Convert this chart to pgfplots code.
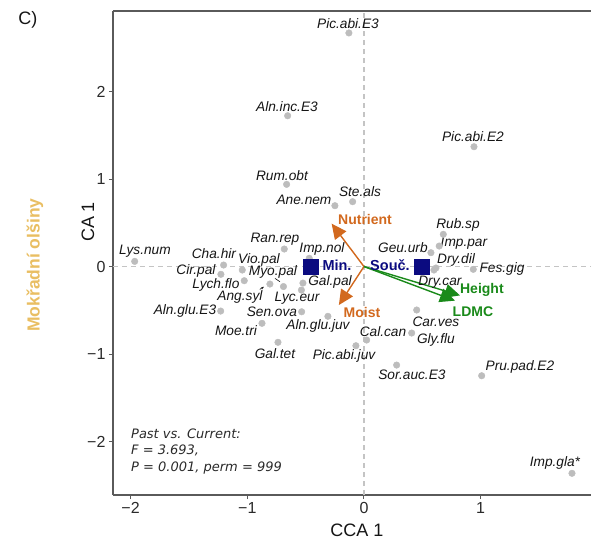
\documentclass[border=0pt]{standalone}
\usepackage{pgfplots}
\pgfplotsset{compat=1.18}
\usepackage{fontspec}
\setmainfont{Liberation Sans}
\newfontfamily\verd{DejaVu Sans}
\usetikzlibrary{arrows.meta}
\definecolor{ptgray}{HTML}{BDBDBD}
\definecolor{axgray}{HTML}{5A5A5A}
\definecolor{dashc}{HTML}{C4C4C4}
\definecolor{tickc}{HTML}{2A2A2A}
\definecolor{labc}{HTML}{151515}
\definecolor{orangec}{HTML}{D2691E}
\definecolor{greenc}{HTML}{1A8A1A}
\definecolor{navyc}{HTML}{0B0B80}
\definecolor{goldc}{HTML}{E9BE62}
\tikzset{lab/.style={font=\fontsize{13.7}{14}\selectfont\itshape, text=labc, inner sep=0pt}}
\begin{document}
\begin{tikzpicture}
\begin{axis}[name=ax, at={(0,0)}, anchor=south west, scale only axis,
  width=478pt, height=484pt,
  xmin=-2.151, xmax=1.946, ymin=-2.611, ymax=2.92,
  axis x line=box, axis y line=left,
  x axis line style={-}, y axis line style={-},
  axis line style={draw=axgray, line width=1.1pt},
  xtick={-2,-1,0,1}, xticklabels={−2,−1,0,1},
  ytick={-2,-1,0,1,2}, yticklabels={−2,−1,0,1,2},
  xtick pos=left, ytick pos=left,
  tick align=outside, major tick length=4pt,
  tick style={draw=axgray, line width=1pt},
  ticklabel style={font=\fontsize{16}{16}\selectfont, text=tickc},
  clip=false,
]
\addplot[dashc, line width=1.1pt, dash pattern=on 5pt off 4pt] coordinates {(-2.151,0) (1.946,0)};
\addplot[dashc, line width=1.1pt, dash pattern=on 5pt off 4pt] coordinates {(0,-2.611) (0,2.92)};
\addplot[only marks, mark=*, mark size=3.3pt, color=ptgray] table {
x y
-0.129 2.669
-0.654 1.723
-0.663 0.939
0.943 1.369
-0.097 0.741
-0.249 0.695
-0.683 0.200
-0.469 0.094
-1.965 0.059
-1.203 0.017
-1.043 -0.040
-1.226 -0.089
-1.026 -0.162
-0.806 -0.200
-0.690 -0.229
-0.523 -0.189
-0.536 -0.269
-0.534 -0.517
-1.228 -0.509
-0.874 -0.649
-0.737 -0.866
-0.309 -0.569
0.680 0.368
0.645 0.234
0.574 0.158
0.617 -0.017
0.600 -0.040
0.937 -0.032
0.452 -0.497
0.409 -0.760
0.023 -0.840
-0.069 -0.905
0.280 -1.126
1.009 -1.248
1.783 -2.363
};
% leader segments
\addplot[labc, line width=0.6pt, -{Stealth[length=3pt]}] coordinates {(-0.893,-0.261) (-0.857,-0.231)};
\addplot[labc, line width=0.6pt] coordinates {(-0.763,-0.135) (-0.72,-0.174)};
% arrows
\addplot[orangec, line width=1.4pt, -{Triangle[length=15pt,width=14pt]}] coordinates {(0,0) (-0.277,0.49)};
\addplot[orangec, line width=1.4pt, -{Triangle[length=15pt,width=14pt]}] coordinates {(0,0) (-0.215,-0.44)};
\addplot[greenc, line width=1.4pt, -{Triangle[length=15pt,width=14pt]}] coordinates {(0,0) (0.823,-0.33)};
\addplot[greenc, line width=1.4pt, -{Triangle[length=15pt,width=14pt]}] coordinates {(0,0) (0.78,-0.39)};
% centroids
\addplot[only marks, mark=square*, mark size=7.2pt, color=navyc] coordinates {(-0.457,0) (0.495,0)};
% species labels
\node[lab] at (axis cs:-0.137,2.771) {Pic.abi.E3};
\node[lab] at (axis cs:-0.660,1.823) {Aln.inc.E3};
\node[lab] at (axis cs:-0.703,1.034) {Rum.obt};
\node[lab] at (axis cs:0.934,1.480) {Pic.abi.E2};
\node[lab] at (axis cs:-0.034,0.851) {Ste.als};
\node[lab] at (axis cs:-0.514,0.760) {Ane.nem};
\node[lab] at (axis cs:0.806,0.474) {Rub.sp};
\node[lab] at (axis cs:0.857,0.269) {Imp.par};
\node[lab] at (axis cs:0.334,0.211) {Geu.urb};
\node[lab] at (axis cs:0.789,0.074) {Dry.dil};
\node[lab] at (axis cs:1.183,-0.029) {Fes.gig};
\node[lab] at (axis cs:-0.763,0.314) {Ran.rep};
\node[lab] at (axis cs:-0.360,0.200) {Imp.nol};
\node[lab] at (axis cs:-1.877,0.177) {Lys.num};
\node[lab] at (axis cs:-1.286,0.143) {Cha.hir};
\node[lab] at (axis cs:-0.900,0.074) {Vio.pal};
\node[lab] at (axis cs:-1.440,-0.051) {Cir.pal};
\node[lab] at (axis cs:-0.780,-0.063) {Myo.pal};
\node[lab] at (axis cs:-0.291,-0.172) {Gal.pal};
\node[lab] at (axis cs:-1.269,-0.211) {Lych.flo};
\node[lab] at (axis cs:0.651,-0.177) {Dry.car};
\node[lab] at (axis cs:-1.063,-0.349) {Ang.syl};
\node[lab] at (axis cs:-0.574,-0.365) {Lyc.eur};
\node[lab] at (axis cs:-1.534,-0.509) {Aln.glu.E3};
\node[lab] at (axis cs:-0.789,-0.520) {Sen.ova};
\node[lab] at (axis cs:0.617,-0.634) {Car.ves};
\node[lab] at (axis cs:-0.394,-0.680) {Aln.glu.juv};
\node[lab] at (axis cs:-1.097,-0.737) {Moe.tri};
\node[lab] at (axis cs:0.163,-0.749) {Cal.can};
\node[lab] at (axis cs:0.617,-0.840) {Gly.flu};
\node[lab] at (axis cs:-0.763,-1.000) {Gal.tet};
\node[lab] at (axis cs:-0.171,-1.023) {Pic.abi.juv};
\node[lab] at (axis cs:0.411,-1.240) {Sor.auc.E3};
\node[lab] at (axis cs:1.337,-1.149) {Pru.pad.E2};
\node[lab] at (axis cs:1.637,-2.246) {Imp.gla*};
% vector and centroid labels
\node[font=\fontsize{14}{14}\selectfont\bfseries, text=orangec, inner sep=0pt] at (axis cs:0.009,0.543) {Nutrient};
\node[font=\fontsize{14}{14}\selectfont\bfseries, text=orangec, inner sep=0pt] at (axis cs:-0.017,-0.520) {Moist};
\node[font=\fontsize{14}{14}\selectfont\bfseries, text=greenc, inner sep=0pt] at (axis cs:1.011,-0.269) {Height};
\node[font=\fontsize{14}{14}\selectfont\bfseries, text=greenc, inner sep=0pt] at (axis cs:0.934,-0.520) {LDMC};
\node[font=\fontsize{14.5}{14}\selectfont\bfseries, text=navyc, inner sep=0pt] at (axis cs:-0.231,0.02) {Min.};
\node[font=\fontsize{14.5}{14}\selectfont\bfseries, text=navyc, inner sep=0pt] at (axis cs:0.223,0.017) {Souč.};
% annotation
\node[anchor=north west, align=left, inner sep=0pt, text=tickc, font=\verd\fontsize{13}{16.3}\selectfont\itshape] at (axis cs:-1.997,-1.852) {Past vs. Current:\\F = 3.693,\\P = 0.001, perm = 999};
% axis titles
\node[font=\fontsize{18}{18}\selectfont, text=labc] at (axis cs:-0.06,-3.011) {CCA 1};
\node[font=\fontsize{18}{18}\selectfont, text=labc, rotate=90] at (axis cs:-2.366,0.509) {CA 1};
\node[font=\fontsize{17.5}{18}\selectfont\bfseries, text=goldc, rotate=90] at (axis cs:-2.820,0.017) {Mokřadní olšiny};
\node[font=\fontsize{18}{18}\selectfont, text=labc] at (axis cs:-2.880,2.817) {C)};
\end{axis}
\pgfresetboundingbox
\useasboundingbox (ax.south west) ++(-113pt,-47pt) rectangle ++(591pt,542pt);
\end{tikzpicture}
\end{document}
